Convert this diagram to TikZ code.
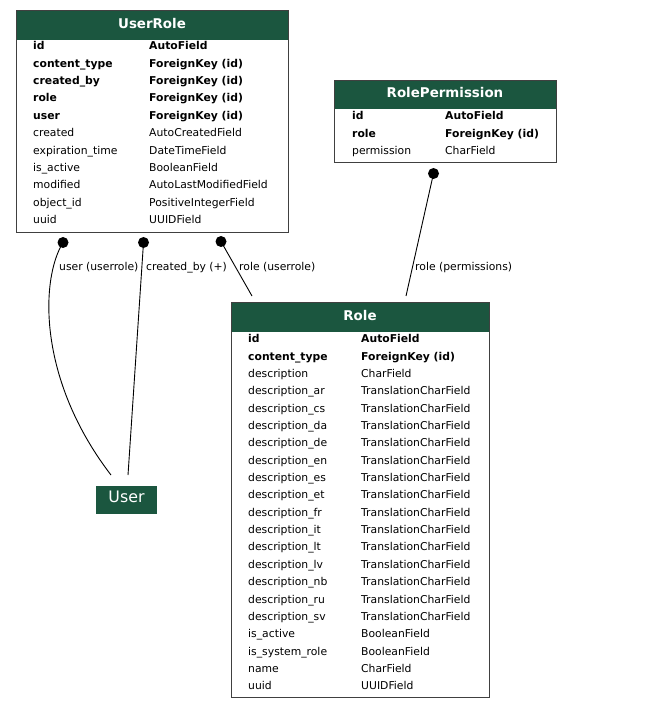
\documentclass[tikz,border=0pt]{standalone}
\usepackage{fontspec}
\setmainfont{DejaVu Sans}
\definecolor{hdrgreen}{HTML}{1B563F}
\tikzset{
  tbl/.style={draw=black!75, line width=1.1pt, fill=white, inner sep=0pt, anchor=north west},
  hdr/.style={fill=hdrgreen, inner sep=0pt, anchor=north west},
  ttl/.style={text=white, inner sep=0pt, font=\fontsize{13.4}{16}\selectfont\bfseries},
  fld/.style={anchor=west, inner sep=0pt, text height=8pt, text depth=2.5pt, font=\fontsize{10.8}{12}\selectfont},
  key/.style={fld, font=\fontsize{10.8}{12}\selectfont\bfseries},
  rel/.style={line width=0.9pt},
  lbl/.style={fld}
}
\begin{document}
\begin{tikzpicture}[x=1pt,y=-1pt]
  \useasboundingbox (0,0) rectangle (669,708);
  % UserRole
  \node[tbl, minimum width=272, minimum height=221.5] (userrole) at (16,10.5) {};
  \node[hdr, minimum width=270.6, minimum height=28.6] (userrole-hdr) at (16.7,11.2) {};
  \node[ttl] at (152,23.5) {UserRole};
  \foreach \fname/\ftype [count=\i from 0] in {id/AutoField, content\_type/ForeignKey (id),
      created\_by/ForeignKey (id), role/ForeignKey (id), user/ForeignKey (id)} {
    \node[key] at (33,47+17.4*\i) {\fname};
    \node[key] at (149,47+17.4*\i) {\ftype};
  }
  \foreach \fname/\ftype [count=\i from 5] in {created/AutoCreatedField, expiration\_time/DateTimeField,
      is\_active/BooleanField, modified/AutoLastModifiedField, object\_id/PositiveIntegerField, uuid/UUIDField} {
    \node[fld] at (33,47+17.4*\i) {\fname};
    \node[fld] at (149,47+17.4*\i) {\ftype};
  }
  % RolePermission
  \node[tbl, minimum width=222, minimum height=82] (rolepermission) at (334,80) {};
  \node[hdr, minimum width=220.6, minimum height=28] (rolepermission-hdr) at (334.7,80.7) {};
  \node[ttl] at (445,92.5) {RolePermission};
  \foreach \fname/\ftype [count=\i from 0] in {id/AutoField, role/ForeignKey (id)} {
    \node[key] at (352,117+17.4*\i) {\fname};
    \node[key] at (445,117+17.4*\i) {\ftype};
  }
  \node[fld] at (352,151.8) {permission};
  \node[fld] at (445,151.8) {CharField};
  % Role
  \node[tbl, minimum width=258, minimum height=395] (role) at (231,302) {};
  \node[hdr, minimum width=256.6, minimum height=29] (role-hdr) at (231.7,302.7) {};
  \node[ttl] at (360,315.5) {Role};
  \foreach \fname/\ftype [count=\i from 0] in {id/AutoField, content\_type/ForeignKey (id)} {
    \node[key] at (248,340+17.35*\i) {\fname};
    \node[key] at (361,340+17.35*\i) {\ftype};
  }
  \node[fld] at (248,374.7) {description};
  \node[fld] at (361,374.7) {CharField};
  \foreach \lang [count=\i from 3] in {ar,cs,da,de,en,es,et,fr,it,lt,lv,nb,ru,sv} {
    \node[fld] at (248,340+17.35*\i) {description\_\lang};
    \node[fld] at (361,340+17.35*\i) {TranslationCharField};
  }
  \foreach \fname/\ftype [count=\i from 17] in {is\_active/BooleanField, is\_system\_role/BooleanField,
      name/CharField, uuid/UUIDField} {
    \node[fld] at (248,340+17.35*\i) {\fname};
    \node[fld] at (361,340+17.35*\i) {\ftype};
  }
  % User
  \node[fill=hdrgreen, text=white, minimum width=61, minimum height=28, inner sep=0pt,
    text depth=6pt, font=\fontsize{15.8}{18}\selectfont] (user) at (126.5,500) {User};
  % relations
  \coordinate (ur-user) at (63,242.5);
  \coordinate (ur-createdby) at (143.5,242.5);
  \coordinate (ur-role) at (221,241.5);
  \coordinate (rp-role) at (433.5,173.5);
  \coordinate (user-a) at (111,475);
  \coordinate (user-b) at (128,475);
  \coordinate (role-a) at (252,296);
  \coordinate (role-b) at (406,296);
  \draw[rel] (ur-user) .. controls (40,280) and (38,380) .. (user-a);
  \draw[rel] (ur-createdby) -- (user-b);
  \draw[rel] (ur-role) -- (role-a);
  \draw[rel] (rp-role) -- (role-b);
  \foreach \c in {ur-user,ur-createdby,ur-role,rp-role}
    \fill (\c) circle (5.5pt);
  \node[lbl] (lbl-user) at (59,268) {user (userrole)};
  \node[lbl] (lbl-createdby) at (146,268) {created\_by (+)};
  \node[lbl] (lbl-urrole) at (239,268) {role (userrole)};
  \node[lbl] (lbl-rprole) at (415,268) {role (permissions)};
\end{tikzpicture}
\end{document}
